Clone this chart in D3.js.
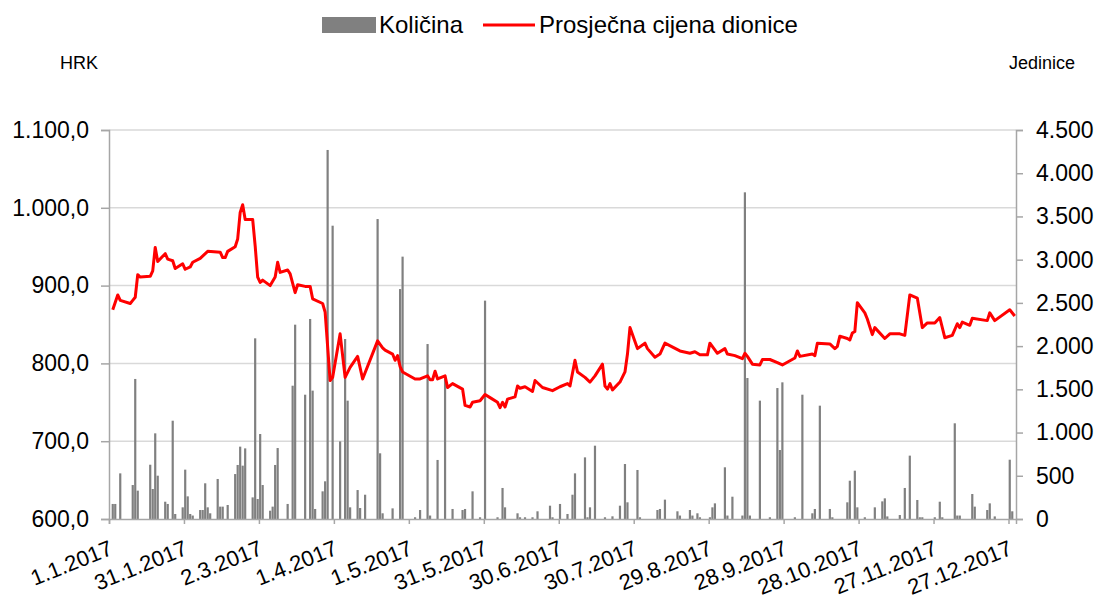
<!DOCTYPE html>
<html>
<head>
<meta charset="utf-8">
<script src="https://cdn.jsdelivr.net/npm/d3@7"></script>
<style>
  body { margin: 0; background: #fff; }
  svg { font-family: "Liberation Sans", Arial, sans-serif; }
</style>
</head>
<body>
<div id="chart"></div>
<script>
// Prosječna cijena dionice (HRK), po datumu trgovanja
const cijena = [
  ["2.1",869],["4.1",888],["5.1",881],["9.1",877],["10.1",881],["11.1",885],["12.1",914],["13.1",911],
  ["17.1",912],["18.1",919],["19.1",949],["20.1",931],["23.1",941],["24.1",934],["26.1",932],["27.1",922],
  ["30.1",928],["31.1",921],["2.2",924],["3.2",930],["6.2",935],["9.2",944],["14.2",943],["15.2",936],
  ["16.2",936],["17.2",944],["20.2",950],["21.2",960],["22.2",994],["23.2",1004],["24.2",985],["27.2",985],
  ["28.2",951],["1.3",911],["2.3",904],["3.3",907],["6.3",900],["8.3",911],["9.3",930],["10.3",917],
  ["13.3",920],["14.3",915],["16.3",891],["17.3",901],["20.3",899],["22.3",899],["23.3",883],["27.3",877],
  ["28.3",866],["30.3",778],["31.3",782],["3.4",838],["5.4",782],["7.4",795],["10.4",809],["12.4",780],
  ["18.4",829],["20.4",820],["21.4",817],["24.4",812],["25.4",804],["26.4",810],["27.4",796],["28.4",789],
  ["3.5",780],["5.5",780],["8.5",784],["9.5",779],["10.5",779],["11.5",790],["12.5",780],["15.5",784],
  ["16.5",769],["18.5",774],["22.5",767],["23.5",746],["25.5",744],["26.5",750],["29.5",752],["31.5",760],
  ["2.6",756],["5.6",750],["6.6",743],["7.6",750],["8.6",744],["9.6",754],["12.6",757],["13.6",771],
  ["14.6",768],["16.6",770],["19.6",764],["20.6",778],["23.6",769],["27.6",765],["30.6",770],["3.7",774],
  ["4.7",771],["6.7",804],["7.7",789],["10.7",782],["12.7",776],["14.7",784],["17.7",799],["18.7",771],
  ["19.7",767],["20.7",774],["21.7",766],["24.7",776],["26.7",789],["27.7",812],["28.7",846],["31.7",819],
  ["3.8",826],["4.8",819],["7.8",808],["9.8",812],["11.8",826],["17.8",816],["21.8",813],["23.8",815],
  ["25.8",811],["28.8",811],["29.8",826],["1.9",813],["4.9",819],["5.9",812],["8.9",810],["11.9",806],
  ["12.9",813],["13.9",809],["15.9",799],["18.9",798],["19.9",805],["22.9",805],["25.9",801],["27.9",798],
  ["2.10",807],["3.10",816],["4.10",809],["9.10",812],["10.10",810],["11.10",826],["16.10",825],["18.10",819],
  ["19.10",822],["20.10",835],["23.10",832],["24.10",830],["25.10",839],["26.10",841],["27.10",878],["30.10",865],
  ["31.10",857],["2.11",837],["3.11",846],["7.11",832],["9.11",838],["13.11",838],["15.11",836],["17.11",888],
  ["20.11",884],["22.11",846],["24.11",852],["27.11",852],["29.11",859],["1.12",833],["4.12",836],["6.12",851],
  ["7.12",846],["8.12",853],["11.12",849],["12.12",858],["18.12",855],["19.12",865],["21.12",855],["27.12",869],
  ["29.12",861]
];

// Količina (jedinice)
const kolicina = [
  ["2.1",174],["3.1",174],["5.1",528],["10.1",393],["11.1",1620],["12.1",328],["17.1",628],["18.1",347],
  ["19.1",991],["20.1",501],["23.1",200],["24.1",174],["26.1",1137],["27.1",58],["30.1",135],["31.1",571],
  ["1.2",262],["2.2",58],["3.2",40],["6.2",104],["7.2",104],["8.2",413],["9.2",135],["10.2",66],
  ["13.2",463],["14.2",143],["15.2",143],["17.2",162],["20.2",520],["21.2",625],["22.2",837],["23.2",617],
  ["24.2",817],["27.2",250],["28.2",2090],["1.3",231],["2.3",983],["3.3",393],["6.3",96],["7.3",143],
  ["8.3",625],["9.3",821],["13.3",174],["15.3",1542],["16.3",2248],["20.3",1438],["22.3",2314],["23.3",1485],
  ["24.3",116],["27.3",320],["28.3",436],["29.3",4269],["31.3",3393],["3.4",898],["5.4",2082],["6.4",1369],
  ["7.4",135],["10.4",335],["11.4",127],["13.4",281],["18.4",3470],["19.4",760],["20.4",66],["24.4",123],
  ["27.4",2660],["28.4",3035],["3.5",20],["5.5",104],["8.5",2024],["9.5",40],["12.5",683],["15.5",1620],
  ["18.5",116],["22.5",104],["23.5",116],["26.5",320],["29.5",20],["31.5",2526],["5.6",20],["7.6",359],
  ["8.6",135],["13.6",66],["14.6",20],["16.6",20],["19.6",20],["21.6",89],["26.6",154],["27.6",20],
  ["30.6",174],["3.7",58],["5.7",281],["6.7",528],["10.7",713],["11.7",20],["12.7",135],["14.7",848],
  ["18.7",20],["21.7",31],["24.7",154],["26.7",636],["27.7",193],["31.7",567],["1.8",20],["8.8",104],
  ["9.8",116],["11.8",224],["16.8",89],["17.8",40],["21.8",104],["22.8",40],["24.8",66],["25.8",20],
  ["29.8",20],["30.8",135],["31.8",181],["4.9",598],["5.9",40],["7.9",258],["11.9",40],["12.9",3779],
  ["13.9",1631],["14.9",40],["18.9",1369],["22.9",20],["25.9",1515],["26.9",798],["27.9",1581],["2.10",20],
  ["5.10",1438],["9.10",66],["10.10",116],["12.10",1311],["16.10",116],["17.10",20],["23.10",193],["24.10",443],
  ["26.10",559],["27.10",135],["30.10",20],["3.11",135],["6.11",204],["7.11",239],["8.11",30],["13.11",46],
  ["15.11",359],["17.11",733],["20.11",220],["21.11",20],["22.11",20],["27.11",20],["29.11",200],["30.11",20],
  ["5.12",1107],["6.12",40],["7.12",40],["12.12",289],["13.12",143],["18.12",104],["19.12",181],["21.12",30],
  ["27.12",686],["28.12",89]
];

const xOznake = ["1.1.2017","31.1.2017","2.3.2017","1.4.2017","1.5.2017","31.5.2017","30.6.2017",
  "30.7.2017","29.8.2017","28.9.2017","28.10.2017","27.11.2017","27.12.2017"];
const lijeviTicks = [600, 700, 800, 900, 1000, 1100];
const desniTicks = [0, 500, 1000, 1500, 2000, 2500, 3000, 3500, 4000, 4500];

const parseDan = d3.timeParse("%d.%m.%Y");
const datum = s => parseDan(s.split(".").length === 2 ? s + ".2017" : s);

const hr = d3.formatLocale({ decimal: ",", thousands: ".", grouping: [3], currency: ["", ""] });
const fmtL = hr.format(",.1f");
const fmtR = hr.format(",d");

const W = 1100, H = 595;
const pLeft = 109, pRight = 1016, pTop = 130, pBottom = 519;

const svg = d3.select("#chart").append("svg")
  .attr("width", W).attr("height", H);

const x = d3.scaleTime()
  .domain([new Date(2017, 0, 1), new Date(2017, 11, 30)])
  .range([pLeft, pRight]);
const dayW = x(new Date(2017, 0, 2)) - x(new Date(2017, 0, 1));
const yL = d3.scaleLinear().domain([600, 1100]).range([pBottom, pTop]);
const yR = d3.scaleLinear().domain([0, 4500]).range([pBottom, pTop]);

// Mreža
svg.append("g")
  .selectAll("line")
  .data(lijeviTicks.slice(1))
  .enter().append("line")
  .attr("x1", pLeft).attr("x2", pRight)
  .attr("y1", d => yL(d)).attr("y2", d => yL(d))
  .attr("stroke", "#d9d9d9").attr("stroke-width", 1.5);

// Stupci
const barW = 2.2;
svg.append("g")
  .selectAll("rect")
  .data(kolicina)
  .enter().append("rect")
  .attr("x", d => x(datum(d[0])) + dayW / 2 - barW / 2)
  .attr("width", barW)
  .attr("y", d => yR(d[1]))
  .attr("height", d => yR(0) - yR(d[1]))
  .attr("fill", "#808080");

// Osi
const axisColor = "#a6a6a6";
const gL = svg.append("g")
  .attr("transform", `translate(${pLeft},0)`)
  .call(d3.axisLeft(yL).tickValues(lijeviTicks).tickFormat(fmtL).tickSize(8).tickPadding(12));
const gR = svg.append("g")
  .attr("transform", `translate(${pRight},0)`)
  .call(d3.axisRight(yR).tickValues(desniTicks).tickFormat(fmtR).tickSize(7).tickPadding(13));
const gB = svg.append("g")
  .attr("transform", `translate(0,${pBottom})`)
  .call(d3.axisBottom(x).tickValues(xOznake.map(datum)).tickFormat("").tickSize(5));

[gL, gR, gB].forEach(g => {
  g.select(".domain").attr("stroke", axisColor).attr("stroke-width", 1.5);
  g.selectAll(".tick line").attr("stroke", axisColor).attr("stroke-width", 1.5);
  g.selectAll(".tick text").attr("fill", "#000").style("font-size", "23px")
    .style("font-family", "'Liberation Sans', Arial, sans-serif");
});

// Linija cijene
const linija = d3.line()
  .x(d => x(datum(d[0])) + dayW / 2)
  .y(d => yL(d[1]));
svg.append("path")
  .datum(cijena)
  .attr("d", linija)
  .attr("fill", "none")
  .attr("stroke", "#ff0000")
  .attr("stroke-width", 3)
  .attr("stroke-linejoin", "round");

// Oznake datuma
svg.append("g")
  .selectAll("text")
  .data(xOznake)
  .enter().append("text")
  .attr("transform", d => `translate(${x(datum(d)) + 5},554) rotate(-22)`)
  .attr("text-anchor", "end")
  .style("font-size", "22px")
  .text(d => d);

// Naslovi osi
svg.append("text").attr("x", 60).attr("y", 69).style("font-size", "18px").text("HRK");
svg.append("text").attr("x", 1075).attr("y", 69).attr("text-anchor", "end").style("font-size", "18px").text("Jedinice");

// Legenda
const leg = svg.append("g");
leg.append("rect").attr("x", 322).attr("y", 17).attr("width", 54).attr("height", 16).attr("fill", "#808080");
leg.append("text").attr("x", 379).attr("y", 33).style("font-size", "24px").text("Količina");
leg.append("line").attr("x1", 483).attr("x2", 535).attr("y1", 25).attr("y2", 25)
  .attr("stroke", "#ff0000").attr("stroke-width", 3);
leg.append("text").attr("x", 539).attr("y", 33).style("font-size", "24px").text("Prosječna cijena dionice");
</script>
</body>
</html>
